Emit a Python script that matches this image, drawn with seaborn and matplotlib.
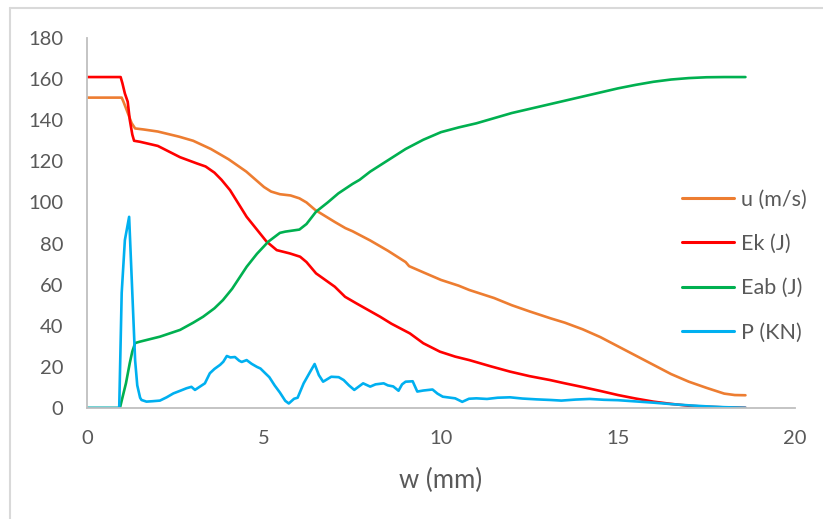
import numpy as np
import pandas as pd
import matplotlib
matplotlib.use("Agg")
import matplotlib.pyplot as plt
from matplotlib.lines import Line2D
import seaborn as sns

# ---- data ----
u_x = [0, 0.95, 0.98, 1.03, 1.12, 1.26, 1.36, 1.6, 2.0, 2.6, 3.0, 3.5, 4.0, 4.5, 4.8, 5.0, 5.2, 5.45, 5.75, 6.0,
       6.2, 6.45, 7.0, 7.3, 7.5, 8.0, 8.3, 8.5, 9.0, 9.1, 9.5, 10.0, 10.5, 10.8, 11.5, 12.0, 12.5, 13.1,
       13.5, 14.0, 14.5, 15.0, 15.5, 16.0, 16.5, 17.0, 17.5, 18.0, 18.3, 18.6]
u_y = [151, 151, 151, 149, 145, 138.6, 136, 135.5, 134.5, 132, 130, 126, 121, 115, 110.5, 107.5, 105.3, 104, 103.4, 102,
       100, 96.3, 90.5, 87.5, 86, 81.5, 78.5, 76.5, 71, 69, 66, 62.3, 59.5, 57.4, 53.5, 50, 47, 43.6,
       41.5, 38.3, 34.5, 30, 25.5, 21, 16.5, 12.8, 9.8, 7, 6.3, 6.2]

ek_x = [0, 0.95, 1.0, 1.07, 1.15, 1.21, 1.28, 1.33, 1.5, 1.7, 2.0, 2.63, 3.1, 3.35, 3.6, 3.8, 4.04, 4.51, 5.07, 5.36,
        5.73, 6.02, 6.2, 6.47, 7.0, 7.29, 7.6, 8.28, 8.6, 9.12, 9.5, 9.97, 10.4, 10.8, 11.4, 11.95, 12.5,
        13.08, 13.5, 14.0, 14.5, 15.0, 15.5, 16.0, 16.5, 17.0, 17.5, 18.0, 18.6]
ek_y = [161, 161, 158, 153, 149, 140, 133, 130, 129.5, 128.7, 127.5, 122, 119, 117.5, 114.5, 111, 106, 93, 81, 76.8,
        75.2, 73.6, 71, 65.5, 59, 54.1, 51, 44.4, 41, 36.3, 31.5, 27.4, 25, 23.3, 20.3, 17.7, 15.5,
        13.6, 12, 10.2, 8.3, 6.3, 4.6, 3.1, 2, 1.1, 0.6, 0.3, 0.1]

eab_x = [0, 0.93, 1.0, 1.1, 1.21, 1.28, 1.36, 1.5, 2.06, 2.63, 3.0, 3.28, 3.6, 3.84, 4.1, 4.51, 4.8, 5.12, 5.45,
         5.6, 6.0, 6.2, 6.47, 6.8, 7.1, 7.5, 7.7, 8.0, 8.5, 9.0, 9.5, 10.0, 10.5, 11.0, 11.5, 12.0, 12.5, 13.0,
         13.5, 14.0, 14.5, 15.0, 15.5, 16.0, 16.5, 17.0, 17.5, 18.0, 18.6]
eab_y = [0, 0, 5, 12, 22, 27.5, 31.6, 32.3, 34.7, 38, 41.5, 44.4, 48.5, 52.5, 58, 68.7, 75, 80.9, 85.2,
         85.8, 86.8, 89.5, 95.5, 100, 104.4, 109, 111, 115, 120.5, 126, 130.5, 134.2, 136.5, 138.5, 141, 143.5,
         145.5, 147.5, 149.5, 151.5, 153.5, 155.5, 157.2, 158.7, 159.8, 160.5, 160.9, 161, 161]

p_x = [0, 0.91, 0.98, 1.07, 1.19, 1.28, 1.36, 1.42, 1.5, 1.54, 1.68, 1.85, 2.06, 2.25, 2.44, 2.65, 2.81, 2.95,
       3.05, 3.19, 3.33, 3.47, 3.6, 3.76, 3.85, 3.95, 4.05, 4.18, 4.3, 4.37, 4.51, 4.65, 4.8, 4.9, 5.03, 5.15,
       5.3, 5.45, 5.6, 5.7, 5.85, 5.95, 6.12, 6.3, 6.43, 6.55, 6.67, 6.9, 7.11, 7.25, 7.4, 7.55, 7.8,
       8.0, 8.15, 8.38, 8.5, 8.65, 8.8, 8.9, 9.0, 9.2, 9.33, 9.5, 9.76, 9.9, 10.05, 10.4, 10.6, 10.79,
       11.0, 11.3, 11.6, 11.95, 12.3, 12.7, 13.1, 13.4, 13.8, 14.2, 14.6, 15.0, 15.5, 16.0, 16.5, 17.0,
       17.5, 18.0, 18.6]
p_y = [0, 0, 56, 81.7, 93, 56, 23, 11, 5, 3.9, 3.1, 3.3, 3.6, 5.2, 7.1, 8.5, 9.6, 10.3,
       8.8, 10.4, 12, 16.9, 19, 21, 22.5, 25.3, 24.6, 24.8, 23, 22.4, 23.3, 21.5, 20, 19.2, 17, 15,
       11, 7.5, 3.5, 2.2, 4.5, 5, 12, 17.5, 21.4, 16, 12.8, 15.2, 15, 13.6, 11, 8.8, 12,
       10.4, 11.5, 12, 11, 10.5, 8.4, 11.5, 12.8, 13, 8, 8.5, 9, 7, 5.5, 4.7, 3, 4.5,
       4.7, 4.4, 5, 5.2, 4.6, 4.2, 3.9, 3.6, 4.1, 4.4, 4.0, 3.8, 3.2, 2.6, 1.9, 1.3,
       0.8, 0.4, 0.1]

series_names = ["u (m/s)", "Ek (J)", "Eab (J)", "P (KN)"]
series_colors = ["#ED7D31", "#FF0000", "#00B050", "#00B0F0"]
x_ticks = [0, 5, 10, 15, 20]
y_ticks = [0, 20, 40, 60, 80, 100, 120, 140, 160, 180]
x_label = "w (mm)"

frames = []
for name, xs, ys in zip(series_names, [u_x, ek_x, eab_x, p_x], [u_y, ek_y, eab_y, p_y]):
    frames.append(pd.DataFrame({"w": xs, "val": ys, "series": name}))
df = pd.concat(frames, ignore_index=True)

sns.set_style("white")
plt.rcParams["font.family"] = ["Lato", "DejaVu Sans"]

W, H = 823, 519
fig = plt.figure(figsize=(W / 100, H / 100), dpi=100)
ax = fig.add_axes([87 / W, 1 - 408 / H, (795 - 87) / W, (408 - 38) / H])

sns.lineplot(data=df, x="w", y="val", hue="series", hue_order=series_names,
             palette=dict(zip(series_names, series_colors)), estimator=None,
             sort=False, linewidth=1.9, ax=ax)

ax.set_xlim(0, 20)
ax.set_ylim(0, 180)
ax.set_xticks(x_ticks)
ax.set_yticks(y_ticks)
ax.tick_params(axis="both", length=0, labelsize=14.5, labelcolor="#595959")
ax.tick_params(axis="y", pad=17)
ax.tick_params(axis="x", pad=16)
ax.set_xlabel(x_label, fontsize=18.5, color="#595959", labelpad=15)
ax.set_ylabel("")
for s in ["top", "right"]:
    ax.spines[s].set_visible(False)
for s in ["left", "bottom"]:
    ax.spines[s].set_color("#BFBFBF")
    ax.spines[s].set_linewidth(1.3)
ax.grid(False)

leg = ax.legend(loc="center left", bbox_to_anchor=(682 / W, 1 - 266 / H),
                bbox_transform=fig.transFigure, frameon=False, fontsize=15.5,
                handlelength=2.42, handletextpad=0.33, labelspacing=1.13,
                borderpad=0, borderaxespad=0)
for t in leg.get_texts():
    t.set_color("#595959")
for l in leg.get_lines():
    l.set_linewidth(2.2)

# outer chart-area frame (light gray)
fig.add_artist(Line2D([10 / W, 1], [1 - 8 / H, 1 - 8 / H], transform=fig.transFigure,
                      color="#D9D9D9", linewidth=1.5))
fig.add_artist(Line2D([10 / W, 10 / W], [0, 1 - 8 / H], transform=fig.transFigure,
                      color="#D9D9D9", linewidth=1.5))

fig.savefig("out.png", dpi=100)
